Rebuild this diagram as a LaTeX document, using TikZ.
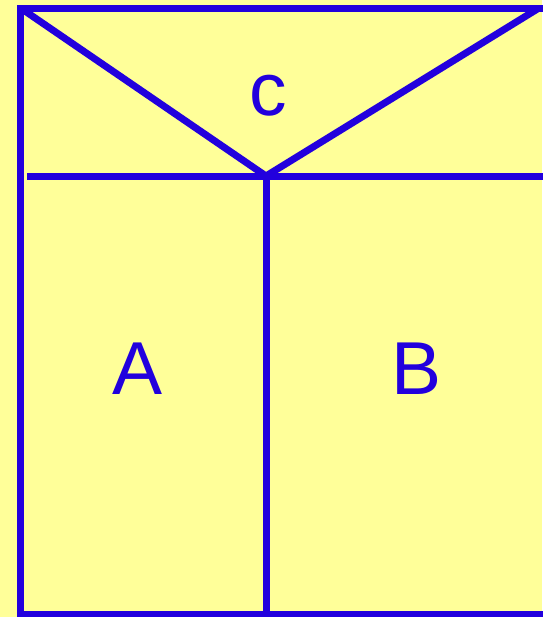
\documentclass[tikz,border=0pt]{standalone}
\usepackage{fontspec}
\setmainfont{Liberation Sans}
\usepackage{tikz}
\usetikzlibrary{positioning,calc}
\definecolor{ink}{RGB}{34,0,221}
\definecolor{paper}{RGB}{255,255,153}

\begin{document}
\begin{tikzpicture}[x=0.5pt, y=-0.5pt,
    wall/.style={ink, line width=3.5pt, line cap=rect},
    lbl/.style={ink, anchor=base, inner sep=0pt, font=\fontsize{37.5}{40}\selectfont}]
  % background and frame
  \fill[paper] (0,0) rectangle (542,617);
  \useasboundingbox (0,0) rectangle (542,617);
  \coordinate (tl) at (20.5,8);
  \coordinate (tr) at (545,8);
  \coordinate (dr) at (539,8);
  \coordinate (mid) at (266,176);
  \coordinate (ml) at (27,176);
  \coordinate (mr) at (545,176);
  \coordinate (bl) at (20.5,614);
  \coordinate (bm) at (266,614);
  \coordinate (br) at (545,614);
  % outer lines
  \draw[wall] (bl) -- (tl) -- (tr);
  \draw[wall] (bl) -- (br);
  % roof
  \draw[wall, line cap=butt] (tl) -- (mid) -- (dr);
  % floor line and wall between A and B
  \draw[wall, line cap=butt] (ml) -- (mr);
  \draw[wall, line cap=butt] (mid) -- (bm);
  % labels
  \node[lbl] (c) at (268,115) {c};
  \node[lbl] (A) at (138,394) {A};
  \node[lbl] (B) at (417,394) {B};
\end{tikzpicture}
\end{document}
